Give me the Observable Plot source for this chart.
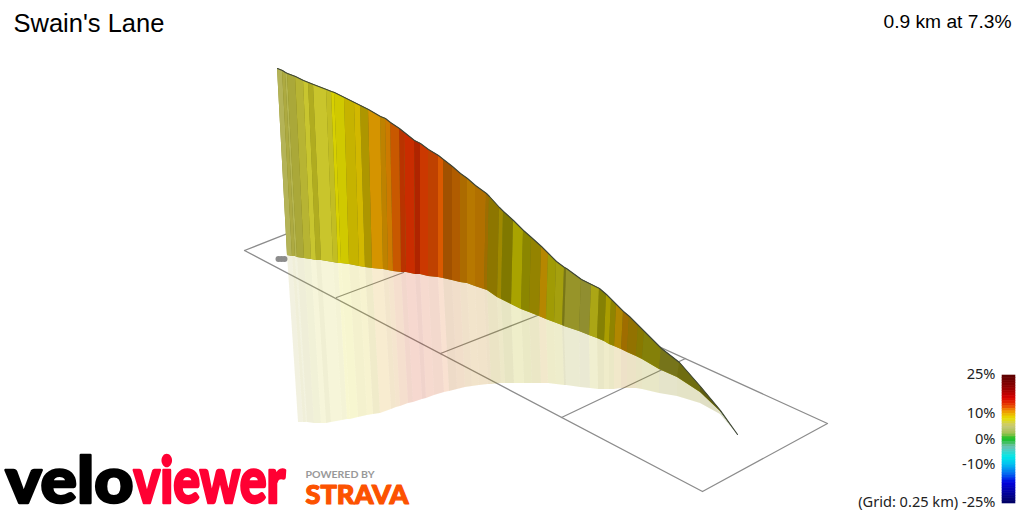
<!DOCTYPE html>
<html><head><meta charset="utf-8">
<style>html,body{margin:0;padding:0;background:#fff}svg{display:block}</style>
<script src="https://cdn.jsdelivr.net/npm/d3@7"></script>
<script src="https://cdn.jsdelivr.net/npm/@observablehq/plot@0.6"></script>
</head><body><div id="chart"></div>
<script>
// Ridge of the wall (top edge)
const topX=[277,282,285,287,295,303,308,313,326,331,334,344,354,360,368,380,385,390,399,404,414,420,428,438,443,452,460,467,475,486,489,499,503,513,523,531,541,548,556,564,566,581,591,599,606,611,616,623,629,638,644,661,679,700,720,737];
const topY=[68,70,72,73,76,80,82,84,89,91,92,97,102,105,109,116,118,122,128,132,140,143,149,155,159,166,173,178,185,193,196,207,211,220,230,237,246,253,261,267,268,279,284,288,294,299,304,311,316,325,331,348,362,386,410,434];
// Foot of the wall (on the ground plane)
const baseX=[287,292,295,297,304,311,316,321,333,338,341,349,359,365,372,383,388,393,401,406,415,420,428,438,443,452,460,467,475,484,487,497,501,511,521,529,539,546,554,562,564,579,589,597,604,609,614,621,627,636,642,659,677,700,720,737];
const baseY=[255,256,256,257,258,259,260,260,262,263,263,264,266,267,268,269,270,271,272,272,274,274,276,277,278,280,282,283,286,289,290,297,299,304,309,312,316,319,322,325,326,331,335,338,341,344,346,349,352,356,359,369,377,392,411,434];
// Lower edge of the reflection
const reflX=[298,303,306,307,314,321,326,331,342,347,350,358,367,373,380,391,396,400,408,413,422,426,434,444,449,457,465,472,479,488,491,501,505,514,524,532,541,548,556,564,566,580,590,598,604,609,614,621,627,636,642,659,677,700,720,737];
const reflY=[422,422,422,422,423,423,423,422,420,419,419,417,415,414,413,409,407,406,403,402,399,398,395,392,391,389,387,386,385,384,384,383,383,383,383,383,383,383,384,385,385,387,388,389,389,389,389,388,388,388,389,393,396,403,414,434];
// Gradient (%) of each stripe between neighbouring stations, and its lighting
const grades=[5.5,6,5.7,6.2,6.5,6.7,7,6.8,7,8,8,8.5,8.7,8.8,10.2,10.3,11,12,13,13.6,13.8,13,12.6,12.2,11.6,11.5,10.8,10.5,10.7,10.3,9,8.8,8.2,8,8,8.6,9.8,7.8,7.5,7,6.5,6.2,7.3,7.8,8.3,8.4,9.6,10.3,9.5,8.6,7.6,6.8,7.2,7,2];
const shades=[.88,.82,.88,.8,.85,.92,.8,.92,.88,.93,.9,.85,.9,.74,.9,.8,.85,.85,.8,.88,.77,.88,.82,.93,.68,.74,.72,.77,.74,.67,.6,.68,.55,.73,.6,.63,.77,.7,.73,.55,.7,.68,.76,.58,.73,.62,.75,.67,.62,.58,.58,.54,.5,.42,.38];
// Ground grid
const gridLine=["outline","outline","outline","outline","outline","c1","c1","c2","c2","c3","c3"];
const gridX=[244,702,827,353,244,336,403,440,537,561,685];
const gridY=[250,491,423,207,250,297,272,353,315,417,358];
const markX=[278,281,284];
const markY=[258.5,258.5,258.5];
// Colour key
const colorDomain=[-25,-17,-14,-10,-7,-3,-1.5,0,2,5,8,11,13,16,20,25];
const colorRange=["#000060","#0000e0","#0060f0","#00c0f0","#00e8e8","#70c0b0","#40c060","#10c020","#a0c050","#c8c878","#e8e000","#f09000","#e84000","#d80000","#900000","#5a0000"];
const keyGrades=[25,24,23,22,21,20,19,18,17,16,15,14,13,12,11,10,9,8,7,6,5,4,3,2,1,0,-1,-2,-3,-4,-5,-6,-7,-8,-9,-10,-11,-12,-13,-14,-15,-16,-17,-18,-19,-20,-21,-22,-23,-24,-25];
const keyLabels=["25%","10%","0%","-10%","(Grid: 0.25 km) -25%"];
const keyLabelY=[378,417,443,468,506];

const rows=[];
grades.forEach((g,i)=>{for(const j of [i,i+1])rows.push({stripe:i,grade:g,dark:1-shades[i],ghost:(1-shades[i])*.17,tx:topX[j],ty:topY[j],bx:baseX[j],by:baseY[j],rx:reflX[j],ry:reflY[j]});});
const stations=topX.map((x,i)=>({tx:x,ty:topY[i],bx:baseX[i],by:baseY[i]}));
const ridge=topX.map((x,i)=>({x,y:topY[i]}));
const grid=gridX.map((x,i)=>({g:gridLine[i],x,y:gridY[i]}));
const keyCells=keyGrades.slice(0,-1).map((g,i)=>({g:g-.5,top:keyGrades[i],bottom:keyGrades[i+1]}));
const keyY=v=>439-2.56*v;
const sans="Liberation Sans, Arial, sans-serif";

const svg=Plot.plot({
  width:1024,height:512,margin:0,
  x:{domain:[0,1024],range:[0,1024],axis:null},
  y:{domain:[0,512],range:[0,512],axis:null},
  color:{type:"linear",domain:colorDomain,range:colorRange},
  opacity:{domain:[0,1],range:[0,1]},
  style:{background:"#fff"},
  marks:[
    Plot.line(grid,{x:"x",y:"y",z:"g",stroke:"#8c8c8c",strokeWidth:1.3}),
    Plot.dot(markX.map((x,i)=>({x,y:markY[i]})),{x:"x",y:"y",r:3,fill:"#8c8c8c"}),
    // reflection
    Plot.area(rows,{x1:"bx",y1:"by",x2:"rx",y2:"ry",z:"stripe",fill:"grade",fillOpacity:.17}),
    Plot.area(rows,{x1:"bx",y1:"by",x2:"rx",y2:"ry",z:"stripe",fill:"#000",fillOpacity:"ghost"}),
    // wall: a backing so seams between stripes do not show white
    Plot.area(stations,{x1:"tx",y1:"ty",x2:"bx",y2:"by",fill:"#8a8a20"}),
    Plot.area(rows,{x1:"tx",y1:"ty",x2:"bx",y2:"by",z:"stripe",fill:"grade"}),
    Plot.area(rows,{x1:"tx",y1:"ty",x2:"bx",y2:"by",z:"stripe",fill:"#000",fillOpacity:"dark"}),
    Plot.line(ridge,{x:"x",y:"y",stroke:"#3c4438",strokeWidth:1.1}),
    // colour key
    Plot.rect(keyCells,{x1:()=>1002,x2:()=>1015,y1:d=>keyY(d.top),y2:d=>keyY(d.bottom),fill:"g",stroke:"g",strokeWidth:.6}),
    Plot.text(keyLabels,{x:()=>995,y:(d,i)=>keyLabelY[i],text:d=>d,textAnchor:"end",lineAnchor:"bottom",fontFamily:"Noto Sans",fontSize:14.6,fill:"#222"}),
    // headings
    Plot.text(["Swain's Lane"],{x:()=>13,y:()=>31,text:d=>d,textAnchor:"start",lineAnchor:"bottom",fontFamily:sans,fontSize:25.5,fill:"#000"}),
    Plot.text(["0.9 km at 7.3%"],{x:()=>1011,y:()=>27,text:d=>d,textAnchor:"end",lineAnchor:"bottom",fontFamily:sans,fontSize:19.2,fill:"#000"}),
    // logos
    Plot.text(["velo"],{x:()=>5,y:()=>502,text:d=>d,textAnchor:"start",lineAnchor:"bottom",fontFamily:"Lato",fontWeight:900,fontSize:65,fill:"#000",stroke:"#000",strokeWidth:2.6}),
    Plot.text(["viewer"],{x:()=>133,y:()=>502,text:d=>d,textAnchor:"start",lineAnchor:"bottom",fontFamily:"Lato",fontWeight:900,fontSize:65,fill:"#ff0033",stroke:"#ff0033",strokeWidth:2.6}),
    Plot.text(["POWERED BY"],{x:()=>305,y:()=>477,text:d=>d,textAnchor:"start",lineAnchor:"bottom",fontFamily:"Lato",fontWeight:700,fontSize:10,fill:"#999"}),
    Plot.text(["STRAVA"],{x:()=>305,y:()=>503,text:d=>d,textAnchor:"start",lineAnchor:"bottom",fontFamily:"Lato",fontWeight:900,fontSize:27,fill:"#fc5200",stroke:"#fc5200",strokeWidth:1.2})
  ]
});
const fit={"velo":128,"viewer":152,"POWERED BY":69,"STRAVA":103};
d3.select(svg).selectAll("text").each(function(){const t=this.textContent;if(fit[t]){this.setAttribute("textLength",fit[t]);this.setAttribute("lengthAdjust","spacingAndGlyphs");}});
document.getElementById("chart").appendChild(svg);
</script></body></html>
